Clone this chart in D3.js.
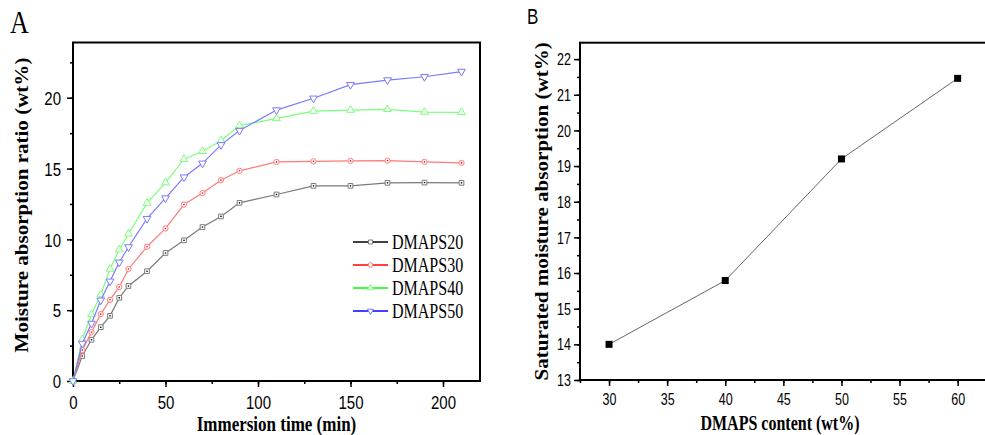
<!DOCTYPE html>
<html>
<head>
<meta charset="utf-8">
<script src="https://cdn.jsdelivr.net/npm/d3@7"></script>
<style>
  body { margin: 0; background: #fff; }
  svg { display: block; }
</style>
</head>
<body>
<div id="chart"></div>
<script>
// Panel A: moisture absorption vs immersion time
const timeMin = [0, 5, 10, 15, 20, 25, 30, 40, 50, 60, 70, 80, 90, 110, 130, 150, 170, 190, 210];
const dmaps20 = [0, 1.76, 2.91, 3.80, 4.60, 5.87, 6.71, 7.75, 9.04, 9.93, 10.87, 11.62, 12.58, 13.17, 13.78, 13.78, 13.99, 14.01, 13.99];
const dmaps30 = [0, 2.18, 3.45, 4.72, 5.73, 6.64, 7.91, 9.48, 10.77, 12.46, 13.27, 14.18, 14.84, 15.47, 15.51, 15.54, 15.56, 15.47, 15.40];
const dmaps40 = [0, 2.93, 4.69, 6.10, 7.91, 9.27, 10.40, 12.56, 14.01, 15.66, 16.22, 16.97, 18.03, 18.54, 19.06, 19.13, 19.18, 18.99, 18.97];
const dmaps50 = [0, 2.65, 4.06, 5.70, 7.04, 8.38, 9.46, 11.46, 12.91, 14.39, 15.37, 16.67, 17.68, 19.13, 19.96, 20.92, 21.25, 21.48, 21.85];
const seriesNames = ["DMAPS20", "DMAPS30", "DMAPS40", "DMAPS50"];
const xTicksA = [0, 50, 100, 150, 200];
const yTicksA = [0, 5, 10, 15, 20];

// Panel B: saturated absorption vs DMAPS content
const contentWt = [30, 40, 50, 60];
const saturated = [14.0, 15.79, 19.2, 21.46];
const xTicksB = [30, 35, 40, 45, 50, 55, 60];
const yTicksB = [13, 14, 15, 16, 17, 18, 19, 20, 21, 22];

const width = 985, height = 435;
const stretch = 1.25; // source image text is taller than wide

const svg = d3.select("#chart").append("svg")
  .attr("width", width).attr("height", height);

const serif = "'Liberation Serif', 'Times New Roman', serif";
const sans = "'Liberation Sans', Arial, sans-serif";

// ---------- Panel A ----------
const xA = d3.scaleLinear().domain([0, 220]).range([73, 480]);
const yA = d3.scaleLinear().domain([0, 23.9]).range([381, 42.5]);

const gA = svg.append("g");

gA.append("g")
  .attr("transform", `translate(0,${yA(0)})`)
  .call(d3.axisBottom(xA).tickValues(d3.range(0, 221, 25)).tickSize(3).tickFormat(""))
  .call(g => g.select(".domain").remove());
gA.append("g")
  .attr("transform", `translate(0,${yA(0)})`)
  .call(d3.axisBottom(xA).tickValues(xTicksA).tickSize(6).tickFormat(d3.format("d")))
  .call(g => g.select(".domain").remove())
  .call(g => g.selectAll("text")
    .attr("y", 0).attr("dy", null)
    .attr("transform", `translate(0,28) scale(1,${stretch})`)
    .style("font", `15px ${sans}`).attr("fill", "#000"));

gA.append("g")
  .attr("transform", `translate(${xA(0)},0)`)
  .call(d3.axisLeft(yA).tickValues(d3.range(0, 23.9, 2.5)).tickSize(3).tickFormat(""))
  .call(g => g.select(".domain").remove());
gA.append("g")
  .attr("transform", `translate(${xA(0)},0)`)
  .call(d3.axisLeft(yA).tickValues(yTicksA).tickSize(6).tickFormat(d3.format("d")))
  .call(g => g.select(".domain").remove())
  .call(g => g.selectAll("text")
    .attr("x", 0).attr("dy", "0.36em")
    .attr("transform", `translate(-12,0) scale(1,${stretch})`)
    .style("font", `15px ${sans}`).attr("fill", "#000"));

gA.selectAll(".tick line").attr("stroke", "#000").attr("stroke-width", 1.5);

gA.append("rect")
  .attr("x", xA(0)).attr("y", yA(23.9))
  .attr("width", xA(220) - xA(0)).attr("height", yA(0) - yA(23.9))
  .attr("fill", "none").attr("stroke", "#000").attr("stroke-width", 2);

const paleColors = ["#7a7a7a", "#ff7a7a", "#7aff7a", "#7a7aff"];
const fullColors = ["#000", "#f00", "#0f0", "#00f"];
const symbols = [d3.symbolSquare, d3.symbolCircle, d3.symbolTriangle, d3.symbolTriangle];
const symbolSizes = [22, 22, 26, 26];
const symbolRot = [0, 0, 0, 180];

const series = [dmaps20, dmaps30, dmaps40, dmaps50].map((vals, i) => ({
  name: seriesNames[i],
  points: timeMin.map((t, j) => ({ t, v: vals[j] }))
}));

const lineA = d3.line().x(d => xA(d.t)).y(d => yA(d.v));

series.forEach((s, i) => {
  gA.append("path")
    .datum(s.points)
    .attr("d", lineA)
    .attr("fill", "none")
    .attr("stroke", paleColors[i])
    .attr("stroke-width", 1.2);

  const sym = d3.symbol().type(symbols[i]).size(symbolSizes[i]);
  gA.append("g").selectAll("path")
    .data(s.points)
    .join("path")
    .attr("d", sym)
    .attr("transform", d => `translate(${xA(d.t)},${yA(d.v)}) rotate(${symbolRot[i]})`)
    .attr("fill", "#fff")
    .attr("stroke", paleColors[i])
    .attr("stroke-width", 1);
  if (i < 2) {
    gA.append("g").selectAll("circle")
      .data(s.points)
      .join("circle")
      .attr("cx", d => xA(d.t)).attr("cy", d => yA(d.v))
      .attr("r", 0.8).attr("fill", fullColors[i]);
  }
});

// legend
const legend = gA.append("g").attr("transform", "translate(353,242)");
series.forEach((s, i) => {
  const row = legend.append("g").attr("transform", `translate(0,${i * 23})`);
  row.append("line").attr("x1", 0).attr("x2", 35).attr("y1", 0).attr("y2", 0)
    .attr("stroke", fullColors[i]).attr("stroke-width", 1.5);
  row.append("path")
    .attr("d", d3.symbol().type(symbols[i]).size(16))
    .attr("transform", `translate(17.5,0) rotate(${symbolRot[i]})`)
    .attr("fill", "#fff").attr("stroke", paleColors[i]).attr("stroke-width", 1);
  row.append("text")
    .attr("transform", `translate(39,0) scale(1,${stretch})`)
    .attr("dy", "0.33em")
    .style("font", `16px ${serif}`)
    .text(s.name);
});

// titles
gA.append("text")
  .attr("transform", `translate(${(xA(0) + xA(220)) / 2},431) scale(1,${stretch})`)
  .attr("text-anchor", "middle")
  .style("font", `bold 17px ${serif}`)
  .text("Immersion time (min)");
gA.append("text")
  .attr("transform", `translate(28,205) rotate(-90) scale(1.17,1)`)
  .attr("text-anchor", "middle")
  .style("font", `bold 18px ${serif}`)
  .text("Moisture absorption ratio (wt%)");
gA.append("text")
  .attr("transform", `translate(10,33) scale(1,1.2)`)
  .style("font", `26px ${serif}`)
  .text("A");

// ---------- Panel B ----------
const xB = d3.scaleLinear().domain([27.5, 62.5]).range([580, 986.7]);
const yB = d3.scaleLinear().domain([13, 22.46]).range([380, 42.7]);

const gB = svg.append("g");

gB.append("g")
  .attr("transform", `translate(0,${yB(13)})`)
  .call(d3.axisBottom(xB).tickValues(d3.range(27.5, 62.6, 2.5)).tickSize(3).tickFormat(""))
  .call(g => g.select(".domain").remove());
gB.append("g")
  .attr("transform", `translate(0,${yB(13)})`)
  .call(d3.axisBottom(xB).tickValues(xTicksB).tickSize(6).tickFormat(d3.format("d")))
  .call(g => g.select(".domain").remove())
  .call(g => g.selectAll("text")
    .attr("y", 0).attr("dy", null)
    .attr("transform", `translate(0,25) scale(1,${stretch})`)
    .style("font", `12.5px ${sans}`).attr("fill", "#000"));

gB.append("g")
  .attr("transform", `translate(${xB(27.5)},0)`)
  .call(d3.axisLeft(yB).tickValues(d3.range(13, 22.46, 0.5)).tickSize(3).tickFormat(""))
  .call(g => g.select(".domain").remove());
gB.append("g")
  .attr("transform", `translate(${xB(27.5)},0)`)
  .call(d3.axisLeft(yB).tickValues(yTicksB).tickSize(6).tickFormat(d3.format("d")))
  .call(g => g.select(".domain").remove())
  .call(g => g.selectAll("text")
    .attr("x", 0).attr("dy", "0.36em")
    .attr("transform", `translate(-9,0) scale(1,${stretch})`)
    .style("font", `12.5px ${sans}`).attr("fill", "#000"));

gB.selectAll(".tick line").attr("stroke", "#000").attr("stroke-width", 1.5);

gB.append("rect")
  .attr("x", xB(27.5)).attr("y", yB(22.46))
  .attr("width", xB(62.5) - xB(27.5)).attr("height", yB(13) - yB(22.46))
  .attr("fill", "none").attr("stroke", "#000").attr("stroke-width", 2);

const pointsB = contentWt.map((c, i) => ({ c, v: saturated[i] }));
gB.append("path")
  .datum(pointsB)
  .attr("d", d3.line().x(d => xB(d.c)).y(d => yB(d.v)))
  .attr("fill", "none").attr("stroke", "#666").attr("stroke-width", 1);
gB.selectAll("rect.pt")
  .data(pointsB)
  .join("rect")
  .attr("class", "pt")
  .attr("x", d => xB(d.c) - 3.5).attr("y", d => yB(d.v) - 3.5)
  .attr("width", 7).attr("height", 7)
  .attr("fill", "#000");

gB.append("text")
  .attr("transform", `translate(780,430) scale(1,${stretch})`)
  .attr("text-anchor", "middle")
  .style("font", `bold 16px ${serif}`)
  .text("DMAPS content (wt%)");
gB.append("text")
  .attr("transform", `translate(548,${(yB(13) + yB(22.46)) / 2}) rotate(-90) scale(1.17,1)`)
  .attr("text-anchor", "middle")
  .style("font", `bold 18px ${serif}`)
  .text("Saturated moisture absorption (wt%)");
gB.append("text")
  .attr("transform", `translate(527,24) scale(1,${stretch})`)
  .style("font", `17px ${sans}`)
  .text("B");
</script>
</body>
</html>
